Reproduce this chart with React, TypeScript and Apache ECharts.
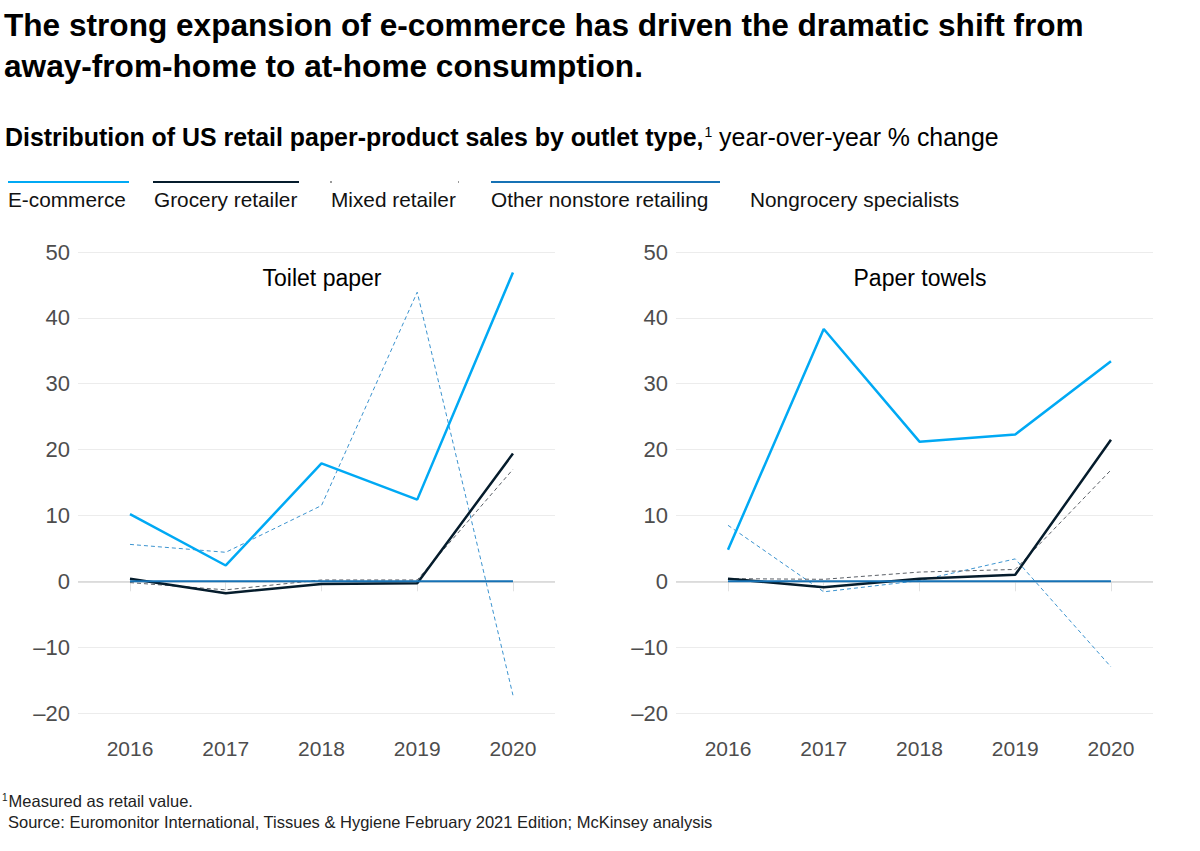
import React, { useEffect, useRef } from "react";
import * as echarts from "echarts";

const years = [2016, 2017, 2018, 2019, 2020];
const yTicks = [-20, -10, 0, 10, 20, 30, 40, 50];

const seriesNames = [
  "E-commerce",
  "Grocery retailer",
  "Mixed retailer",
  "Other nonstore retailing",
  "Nongrocery specialists",
];

// Toilet paper, year-over-year % change
const tpEcommerce = [10.2, 2.4, 17.9, 12.4, 46.9];
const tpGrocery = [0.4, -1.8, -0.4, -0.3, 19.4];
const tpMixed = [-0.2, -1.3, 0.2, 0.2, 17.0];
const tpOtherNonstore = [0, 0, 0, 0, 0];
const tpNongrocery = [5.6, 4.4, 11.5, 43.9, -17.3];

// Paper towels, year-over-year % change
const ptEcommerce = [4.8, 38.3, 21.2, 22.3, 33.4];
const ptGrocery = [0.4, -0.9, 0.4, 1.0, 21.5];
const ptMixed = [0.4, 0.3, 1.4, 1.8, 16.9];
const ptOtherNonstore = [0, 0, 0, 0, 0];
const ptNongrocery = [8.5, -1.6, 0.1, 3.4, -13.0];

const panelTitles = ["Toilet paper", "Paper towels"];

const FONT = "'Liberation Sans', Arial, sans-serif";
const C_ECOM = "#00a9f4";
const C_GROC = "#051c2c";
const C_MIXED = "#5a5f66";
const C_OTHER = "#1672b5";
const C_NONGROC = "#3b93cf";

function pairs(vals: number[]) {
  return vals.map((v, i) => [years[i], v]);
}

function panelSeries(idx: number, data: number[][]) {
  const [ecom, groc, mixed, other, nongroc] = data;
  return [
    {
      name: seriesNames[4],
      type: "line",
      xAxisIndex: idx,
      yAxisIndex: idx,
      data: pairs(nongroc),
      symbol: "none",
      lineStyle: { color: C_NONGROC, width: 1, type: [4, 3] },
      z: 2,
      markLine: {
        silent: true,
        symbol: "none",
        label: { show: false },
        lineStyle: { color: "#d6d6d6", width: 1.5, type: "solid" },
        data: [{ yAxis: 0 }],
        z: 1,
      },
    },
    {
      name: seriesNames[2],
      type: "line",
      xAxisIndex: idx,
      yAxisIndex: idx,
      data: pairs(mixed),
      symbol: "none",
      lineStyle: { color: C_MIXED, width: 1, type: [4, 3] },
      z: 3,
    },
    {
      name: seriesNames[0],
      type: "line",
      xAxisIndex: idx,
      yAxisIndex: idx,
      data: pairs(ecom),
      symbol: "none",
      lineStyle: { color: C_ECOM, width: 2.5 },
      z: 4,
    },
    {
      name: seriesNames[1],
      type: "line",
      xAxisIndex: idx,
      yAxisIndex: idx,
      data: pairs(groc),
      symbol: "none",
      lineStyle: { color: C_GROC, width: 2.5 },
      z: 5,
    },
    {
      name: seriesNames[3],
      type: "line",
      xAxisIndex: idx,
      yAxisIndex: idx,
      data: pairs(other),
      symbol: "none",
      lineStyle: { color: C_OTHER, width: 2 },
      z: 6,
    },
  ];
}

export default function App() {
  const ref = useRef<HTMLDivElement>(null);

  useEffect(() => {
    if (!ref.current) return;
    const chart = echarts.init(ref.current, null, { renderer: "svg" });

    const gridLefts = [78, 676];
    const gridW = 477;

    const xAxes = gridLefts.map((_, i) => ({
      type: "value",
      gridIndex: i,
      min: 2015.457,
      max: 2020.439,
      splitLine: { show: false },
      axisLine: { show: false },
      axisTick: {
        show: true,
        length: 10,
        customValues: years,
        lineStyle: { color: "#e2e2e2", width: 1 },
      },
      axisLabel: {
        customValues: years,
        formatter: (v: number) => String(v),
        color: "#4d4d4d",
        fontFamily: FONT,
        fontSize: 21,
        margin: 25,
      },
    }));

    const yAxes = gridLefts.map((_, i) => ({
      type: "value",
      gridIndex: i,
      min: yTicks[0],
      max: yTicks[yTicks.length - 1],
      interval: 10,
      axisLine: { show: false },
      axisTick: { show: false },
      splitLine: { show: true, lineStyle: { color: "#ececec", width: 1 } },
      axisLabel: {
        color: "#4d4d4d",
        fontFamily: FONT,
        fontSize: 22,
        margin: 8,
        formatter: (v: number) => (v < 0 ? "\u2013" + Math.abs(v) : String(v)),
      },
    }));

    const legendItems = [
      { name: seriesNames[0], tx: 8, lx1: 8, lx2: 129, color: C_ECOM, width: 2, dash: null },
      { name: seriesNames[1], tx: 154, lx1: 153, lx2: 299, color: C_GROC, width: 2, dash: null },
      { name: seriesNames[2], tx: 331, lx1: 330, lx2: 459, color: "#9a9a9a", width: 2, dash: [2, 126] },
      { name: seriesNames[3], tx: 491, lx1: 491, lx2: 720, color: C_OTHER, width: 2, dash: null },
      { name: seriesNames[4], tx: 750, lx1: 0, lx2: 0, color: "", width: 0, dash: null },
    ];

    const graphic: any[] = [
      {
        type: "text",
        x: 4,
        y: 25,
        style: {
          text: "The strong expansion of e-commerce has driven the dramatic shift from",
          font: `bold 31.6px ${FONT}`,
          fill: "#000",
          textVerticalAlign: "middle",
        },
      },
      {
        type: "text",
        x: 4,
        y: 66,
        style: {
          text: "away-from-home to at-home consumption.",
          font: `bold 31.6px ${FONT}`,
          fill: "#000",
          textVerticalAlign: "middle",
        },
      },
      {
        type: "text",
        x: 5,
        y: 137,
        style: {
          text: "{b|Distribution of US retail paper-product sales by outlet type,}{s|1}{r| year-over-year % change}",
          textVerticalAlign: "middle",
          rich: {
            b: { fontWeight: "bold", fontSize: 24.9, fontFamily: FONT, fill: "#000" },
            s: { fontSize: 14, fontFamily: FONT, fill: "#000", verticalAlign: "top", padding: [0, 0, 11, 1] },
            r: { fontSize: 24.9, fontFamily: FONT, fill: "#000" },
          },
        },
      },
    ];

    legendItems.forEach((it) => {
      if (it.width > 0) {
        graphic.push({
          type: "line",
          shape: { x1: it.lx1, y1: 182, x2: it.lx2, y2: 182 },
          style: { stroke: it.color, lineWidth: it.width, lineDash: it.dash || undefined },
        });
      }
      graphic.push({
        type: "text",
        x: it.tx,
        y: 199,
        style: {
          text: it.name,
          font: `20.8px ${FONT}`,
          fill: "#111",
          textVerticalAlign: "middle",
        },
      });
    });

    panelTitles.forEach((t, i) => {
      graphic.push({
        type: "text",
        x: gridLefts[i] + 244,
        y: 278,
        style: {
          text: t,
          font: `23px ${FONT}`,
          fill: "#000",
          textAlign: "center",
          textVerticalAlign: "middle",
        },
      });
    });

    graphic.push({
      type: "text",
      x: 2,
      y: 801,
      style: {
        text: "{s|1}{r|Measured as retail value.}",
        textVerticalAlign: "middle",
        rich: {
          s: { fontSize: 10, fontFamily: FONT, fill: "#222", verticalAlign: "top", padding: [0, 1, 8, 0] },
          r: { fontSize: 16.5, fontFamily: FONT, fill: "#222" },
        },
      },
    });
    graphic.push({
      type: "text",
      x: 8,
      y: 822,
      style: {
        text: "Source: Euromonitor International, Tissues & Hygiene February 2021 Edition; McKinsey analysis",
        font: `16.5px ${FONT}`,
        fill: "#222",
        textVerticalAlign: "middle",
      },
    });

    chart.setOption({
      animation: false,
      backgroundColor: "#fff",
      grid: gridLefts.map((l) => ({ left: l, top: 252, width: gridW, height: 461 })),
      xAxis: xAxes,
      yAxis: yAxes,
      series: [
        ...panelSeries(0, [tpEcommerce, tpGrocery, tpMixed, tpOtherNonstore, tpNongrocery]),
        ...panelSeries(1, [ptEcommerce, ptGrocery, ptMixed, ptOtherNonstore, ptNongrocery]),
      ],
      graphic,
    });

    return () => chart.dispose();
  }, []);

  return (
    <div
      ref={ref}
      style={{ position: "fixed", left: 0, top: 0, width: 1200, height: 851, background: "#fff" }}
    />
  );
}
